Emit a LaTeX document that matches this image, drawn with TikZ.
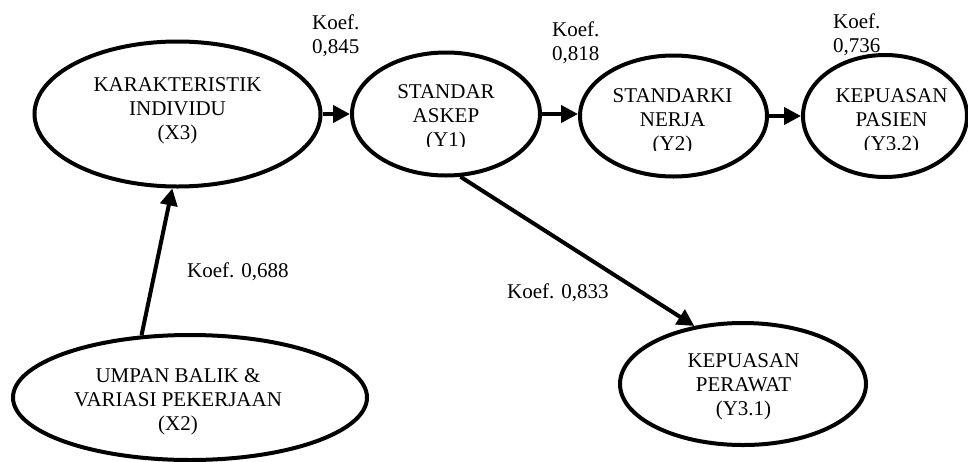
\documentclass[tikz,border=0pt]{standalone}
\usepackage{fontspec}
\setmainfont{Liberation Serif}
\usetikzlibrary{shapes.geometric,arrows.meta}
\begin{document}
\begin{tikzpicture}[x=1pt,y=-1pt,
  oval/.style={ellipse,draw,line width=4pt,inner sep=0pt},
  lbl/.style={font=\fontsize{21}{24}\selectfont,inner sep=0pt,align=center},
  koef/.style={font=\fontsize{21}{24.5}\selectfont,inner sep=0pt,align=left},
  link/.style={line width=4pt,-{Triangle[length=17pt,width=17pt]}}]
\useasboundingbox (0,0) rectangle (968,461);
% ellipses
\node[oval,minimum width=286pt,minimum height=145pt] (x3) at (177.5,114) {};
\node[oval,minimum width=188pt,minimum height=123pt] (y1) at (446,114) {};
\node[oval,minimum width=187pt,minimum height=121pt] (y2) at (673.5,116) {};
\node[oval,minimum width=164pt,minimum height=122pt] (y32) at (885,116) {};
\node[oval,minimum width=246pt,minimum height=122pt] (y31) at (743,384) {};
\node[oval,minimum width=354pt,minimum height=125pt] (x2) at (190,397.5) {};
% texts
\node[lbl] (x3t) at (177.5,110.5) {KARAKTERISTIK\\INDIVIDU\\(X3)};
\begin{scope}
\clip (352,0) rectangle (540,146);
\node[lbl] (y1t) at (446,117.5) {STANDAR\\ASKEP\\(Y1)};
\end{scope}
\begin{scope}
\clip (580,0) rectangle (767,150);
\node[lbl] (y2t) at (672.5,121.5) {STANDARKI\\NERJA\\(Y2)};
\end{scope}
\begin{scope}
\clip (803,0) rectangle (968,149);
\node[lbl] (y32t) at (891.5,121.5) {KEPUASAN\\PASIEN\\(Y3.2)};
\end{scope}
\node[lbl] (y31t) at (743.5,386.5) {KEPUASAN\\PERAWAT\\(Y3.1)};
\node[lbl] (x2t) at (178,401.5) {UMPAN BALIK \&\\VARIASI PEKERJAAN\\(X2)};
% coefficient labels
\node[koef,anchor=north west] (k1) at (312,14.5) {Koef.\\0,845};
\node[koef,anchor=north west] (k2) at (552,21.5) {Koef.\\0,818};
\node[koef,anchor=north west] (k3) at (833,13.5) {Koef.\\0,736};
\node[koef,anchor=base west] (k4) at (187,277) {Koef. 0,688};
\node[koef,anchor=base west] (k5) at (507,298) {Koef. 0,833};
% connectors
\draw[link] (x3.east) -- (y1.west);
\draw[link] (y1.east) -- (y1.east -| y2.west);
\draw[link] (y2.east) -- (y32.west);
\draw[link] (x2.128) -- (x3.266);
\draw[link] (y1.283) -- (y31.130);
\end{tikzpicture}
\end{document}
